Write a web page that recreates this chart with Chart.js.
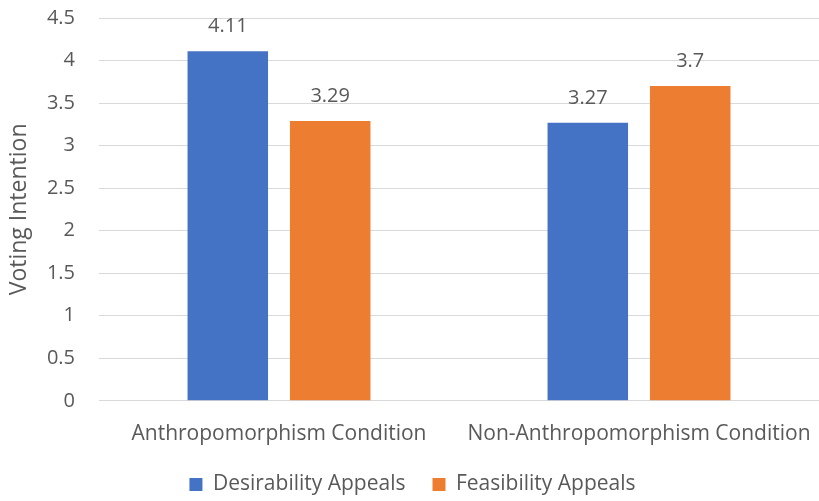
<!DOCTYPE html>
<html>
<head>
<meta charset="utf-8">
<script src="https://cdn.jsdelivr.net/npm/chart.js@4"></script>
<style>
    html, body { margin: 0; padding: 0; background: #fff; }
    #wrap { width: 819px; height: 501px; }
</style>
</head>
<body>
<div id="wrap"><canvas id="voteChart"></canvas></div>
<script>
const categories = ["Anthropomorphism Condition", "Non-Anthropomorphism Condition"];
const desirability = [4.11, 3.27];
const feasibility = [3.29, 3.7];
const seriesNames = ["Desirability Appeals", "Feasibility Appeals"];
const yTicks = [0, 0.5, 1, 1.5, 2, 2.5, 3, 3.5, 4, 4.5];

const fontFamily = "'Open Sans', 'Noto Sans', sans-serif";
const textColor = "#595959";

// draws the value above each bar
const barLabels = {
    id: "barLabels",
    afterDatasetsDraw(chart) {
        const ctx = chart.ctx;
        ctx.save();
        ctx.font = "20px " + fontFamily;
        ctx.fillStyle = textColor;
        ctx.textAlign = "center";
        ctx.textBaseline = "alphabetic";
        chart.data.datasets.forEach((ds, i) => {
            chart.getDatasetMeta(i).data.forEach((bar, j) => {
                ctx.fillText(String(ds.data[j]), bar.x, bar.y - 19);
            });
        });
        ctx.restore();
    }
};

new Chart(document.getElementById("voteChart"), {
    type: "bar",
    data: {
        labels: categories,
        datasets: [{
            label: seriesNames[0],
            data: desirability,
            backgroundColor: "#4472C4"
        }, {
            label: seriesNames[1],
            data: feasibility,
            backgroundColor: "#ED7D31"
        }]
    },
    options: {
        responsive: true,
        maintainAspectRatio: false,
        animation: false,
        categoryPercentage: 0.569,
        barPercentage: 0.786,
        layout: { padding: { left: 6, right: 0, top: 18, bottom: 0 } },
        plugins: {
            legend: {
                position: "bottom",
                maxHeight: 54,
                labels: {
                    boxWidth: 13,
                    boxHeight: 13,
                    padding: 27,
                    color: textColor,
                    font: { family: fontFamily, size: 21 }
                }
            },
            tooltip: { enabled: false }
        },
        scales: {
            x: {
                grid: { color: "transparent", drawOnChartArea: false, tickLength: 21 },
                border: { color: "#d9d9d9" },
                ticks: {
                    color: textColor,
                    padding: 0,
                    font: { family: fontFamily, size: 21 }
                }
            },
            y: {
                min: 0,
                max: 4.5,
                afterBuildTicks(axis) {
                    axis.ticks = yTicks.map(v => ({ value: v }));
                },
                grid: { color: "#d9d9d9", tickColor: "transparent", tickLength: 24 },
                border: { display: false },
                ticks: {
                    color: textColor,
                    padding: 0,
                    font: { family: fontFamily, size: 20 },
                    callback: v => String(v)
                },
                title: {
                    display: true,
                    text: "Voting Intention",
                    color: textColor,
                    padding: 0,
                    font: { family: fontFamily, size: 23 }
                },
                afterFit(scale) { scale.width = 93; }
            }
        }
    },
    plugins: [barLabels]
});
</script>
</body>
</html>
